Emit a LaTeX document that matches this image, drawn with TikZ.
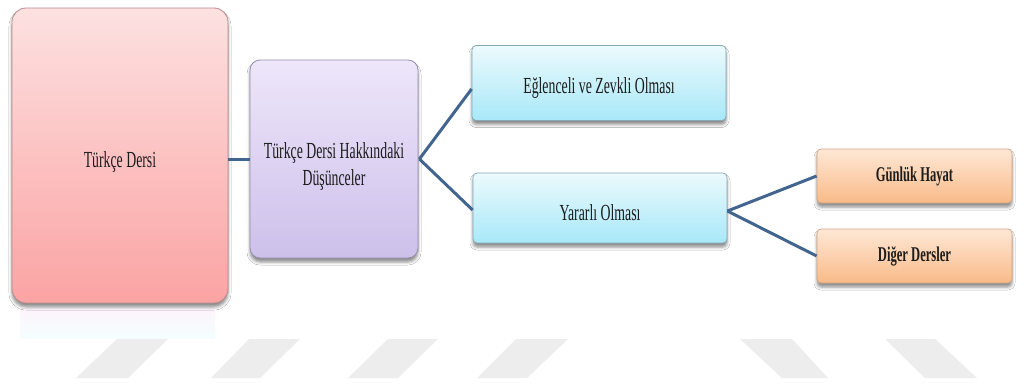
\documentclass[tikz,border=0pt]{standalone}
\usepackage{fontspec}
\setmainfont{Liberation Serif}
\newfontfamily\condserif[FakeStretch=0.6]{Liberation Serif}
\usetikzlibrary{shadows.blur}

\definecolor{pinkT}{HTML}{FDE1E1}
\definecolor{pinkB}{HTML}{FBA3A3}
\definecolor{pinkD}{HTML}{B88A8C}
\definecolor{lilT}{HTML}{EEE6FA}
\definecolor{lilB}{HTML}{CDC0EA}
\definecolor{lilD}{HTML}{958DAA}
\definecolor{cyT}{HTML}{ECFAFD}
\definecolor{cyB}{HTML}{A8E8F8}
\definecolor{cyD}{HTML}{86A8B4}
\definecolor{orT}{HTML}{FEE8D6}
\definecolor{orB}{HTML}{F9BA88}
\definecolor{orD}{HTML}{D2A484}
\definecolor{link}{HTML}{41658E}
\definecolor{wmark}{HTML}{EDEDED}
\definecolor{ink}{HTML}{1C1C1C}
\definecolor{mirA}{HTML}{FDF4FA}
\definecolor{mirB}{HTML}{F4FEFE}

\tikzset{
  block/.style={draw, line width=0.8pt, inner sep=0pt,
    blur shadow={shadow xshift=0pt, shadow yshift=-4pt,
                 shadow blur radius=3pt, shadow opacity=45}},
  pinkbox/.style={block, draw=pinkD, top color=pinkT, bottom color=pinkB,
    rounded corners=14pt},
  lilbox/.style={block, draw=lilD, top color=lilT, bottom color=lilB,
    rounded corners=10pt},
  cybox/.style={block, draw=cyD, top color=cyT, bottom color=cyB,
    rounded corners=4pt, minimum width=254pt},
  orbox/.style={block, draw=orD, top color=orT, bottom color=orB,
    rounded corners=4pt, minimum width=195pt, minimum height=54pt},
  lbl/.style={text=ink, align=center,
    font=\condserif\fontsize{23}{27}\selectfont},
  lblb/.style={lbl, font=\condserif\bfseries\fontsize{21}{24}\selectfont},
  wire/.style={draw=link, line width=3pt},
  wm/.style={fill=wmark}
}

\begin{document}
\begin{tikzpicture}[x=1pt,y=1pt]
\useasboundingbox[fill=white] (0,0) rectangle (1030,-383);

% light stripes along the bottom edge
\fill[wm] (117,-339) -- (168,-339) -- (128,-378) -- (76,-378) -- cycle;
\fill[wm] (249,-339) -- (300,-339) -- (260,-378) -- (211,-378) -- cycle;
\fill[wm] (388,-339) -- (438,-339) -- (398,-378) -- (348,-378) -- cycle;
\fill[wm] (516,-339) -- (568,-339) -- (527,-378) -- (477,-378) -- cycle;
\fill[wm] (740,-339) -- (792,-339) -- (828,-378) -- (782,-378) -- cycle;
\fill[wm] (885,-339) -- (935,-339) -- (977,-378) -- (925,-378) -- cycle;

% faint mirror under the first block
\shade[top color=mirA, bottom color=mirB] (20,-308) rectangle (215,-338);

% blocks
\node[pinkbox, minimum width=216pt, minimum height=295pt,
      label={[lbl, yshift=-6pt]center:Türkçe Dersi}] (b1) at (120,-155.5) {};
\node[lilbox, minimum width=168pt, minimum height=198pt,
      label={[lbl, yshift=-7pt]center:Türkçe Dersi Hakkındaki\\Düşünceler}] (b2) at (334,-159) {};
\node[cybox, minimum height=75pt,
      label={[lbl, yshift=-5pt]center:Eğlenceli ve Zevkli Olması}] (b3) at (599,-83) {};
\node[cybox, minimum height=70pt,
      label={[lbl, yshift=-5pt]center:Yararlı Olması}] (b4) at (600,-208) {};
\node[orbox, label={[lblb]center:Günlük Hayat}] (b5) at (914.5,-176) {};
\node[orbox, label={[lblb]center:Diğer Dersler}] (b6) at (914.5,-256) {};

% connectors
\draw[wire] (b1.east |- b2.west) -- (b2.west);
\draw[wire] ([xshift=1pt]b2.east) -- ([yshift=-6pt]b3.west);
\draw[wire] ([xshift=1pt]b2.east) -- ([yshift=-2pt]b4.west);
\draw[wire] ([yshift=-3pt]b4.east) -- (b5.west);
\draw[wire] ([yshift=-3pt]b4.east) -- (b6.west);
\end{tikzpicture}
\end{document}
